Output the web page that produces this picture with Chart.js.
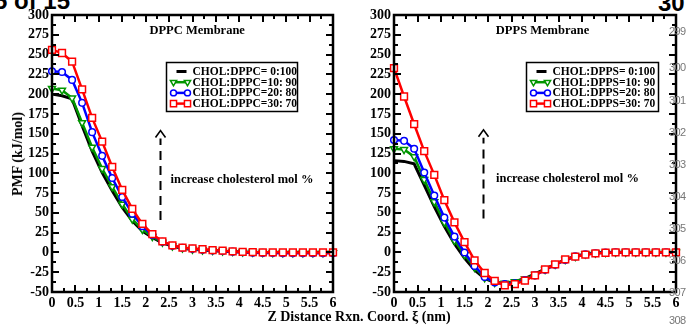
<!DOCTYPE html>
<html>
<head>
<meta charset="utf-8">
<title>PMF profiles - DPPC / DPPS</title>
<script src="https://cdn.jsdelivr.net/npm/chart.js@4.4.1/dist/chart.umd.min.js"></script>
<style>
    body { margin: 0; background: #fff; }
    #page { position: relative; width: 689px; height: 326px; overflow: hidden; background: #fff; }
    canvas { position: absolute; top: 0; }
    #leftChart { left: 0; }
    #rightChart { left: 345px; }
    .pageHead { position: absolute; font: bold 24px 'Liberation Sans', Arial, sans-serif; line-height: 24px; color: #000; white-space: nowrap; }
    .lineNo { position: absolute; left: 669px; font: 11px 'Liberation Sans', Arial, sans-serif; line-height: 12px; color: #777; letter-spacing: -0.6px; }
    .axisTitle { position: absolute; font: bold 14px 'Liberation Serif', 'Times New Roman', serif; color: #000; white-space: nowrap; line-height: 16px; }
    #xTitle { left: 359px; top: 309px; transform: translateX(-50%); }
    #yTitle { left: 18px; top: 154px; transform: translate(-50%, -50%) rotate(-90deg); }
</style>
</head>
<body>
<div id="page">
    <div class="pageHead" style="left:-6px; top:-11px;">5 of 15</div>
    <div class="pageHead" style="left:658px; top:-9px;">30</div>

    <canvas id="leftChart" width="345" height="326"></canvas>
    <canvas id="rightChart" width="344" height="326"></canvas>

    <div class="lineNo" style="top:25px;">299</div>
    <div class="lineNo" style="top:61px;">300</div>
    <div class="lineNo" style="top:94px;">301</div>
    <div class="lineNo" style="top:126px;">302</div>
    <div class="lineNo" style="top:158px;">303</div>
    <div class="lineNo" style="top:190px;">304</div>
    <div class="lineNo" style="top:222px;">305</div>
    <div class="lineNo" style="top:254px;">306</div>
    <div class="lineNo" style="top:286px;">307</div>
    <div class="lineNo" style="top:314px;">308</div>

    <div id="xTitle" class="axisTitle">Z Distance Rxn. Coord. &#958; (nm)</div>
    <div id="yTitle" class="axisTitle">PMF (kJ/mol)</div>
</div>

<script>
// --- Data ---
const zDistance = [0, 0.214, 0.429, 0.643, 0.857, 1.071, 1.286, 1.5, 1.714, 1.929,
    2.143, 2.357, 2.571, 2.786, 3, 3.214, 3.429, 3.643, 3.857, 4.071,
    4.286, 4.5, 4.714, 4.929, 5.143, 5.357, 5.571, 5.786, 6];

// DPPC membrane
const dppcChol0 = [200, 198, 194, 160, 128, 101, 78, 57, 40, 27, 19, 12, 8, 5, 4, 3, 2, 1.5, 1, 0.5, 0.2, 0, 0, 0, 0, 0, 0, 0, 0];
const dppcChol10 = [207, 205, 195, 164, 133, 106, 83, 61, 42, 29, 20, 13, 8, 5.5, 4, 3, 2.5, 1.8, 1.2, 0.6, 0.2, -0.2, -0.4, -0.5, -0.5, -0.5, -0.5, -0.5, -0.5];
const dppcChol20 = [229, 228, 218, 189, 152, 122, 94, 70, 49, 33, 22, 13.5, 8.5, 6, 4.5, 3.5, 2.5, 1.8, 1, 0.3, -0.3, -0.6, -0.8, -1, -1, -1, -1, -1, -1];
const dppcChol30 = [256, 252, 241, 206, 170, 140, 108, 79, 55, 36, 23, 14, 9, 6, 5, 4, 3, 2.2, 1.4, 0.6, 0.3, 0.2, 0.1, 0.1, 0, 0, 0, 0, 0];

// DPPS membrane
const dppsChol0 = [116, 115, 112, 85, 58, 33, 11, -7, -22, -33, -38, -39, -37, -33, -27, -21, -15, -9, -5, -2, -0.5, 0, 0.2, 0.2, 0.2, 0.2, 0.2, 0.2, 0.2];
const dppsChol10 = [131, 130, 121, 92, 64, 38, 15, -3, -19, -32, -38, -39, -37, -33.5, -28, -21.5, -15, -9, -5, -2, -0.8, 0, 0.3, 0.3, 0.3, 0.3, 0.3, 0.3, 0.3];
const dppsChol20 = [142, 141, 131, 101, 72, 44, 20, 0, -17, -31, -38, -40, -39, -35, -29, -22, -15.5, -9.5, -5, -2.5, -1, 0, 0.3, 0.3, 0.3, 0.2, 0.2, 0.2, 0.2];
const dppsChol30 = [233, 197, 162, 128, 98, 66, 38, 13, -10, -26, -36, -41.5, -40, -35.7, -29, -21.5, -15, -8.7, -5.4, -2.9, -1.2, -0.4, 0, 0.2, 0.2, 0.2, 0.2, 0.2, 0.2];

const dppcLabels = ['CHOL:DPPC= 0:100', 'CHOL:DPPC=10: 90', 'CHOL:DPPC=20: 80', 'CHOL:DPPC=30: 70'];
const dppsLabels = ['CHOL:DPPS= 0:100', 'CHOL:DPPS=10: 90', 'CHOL:DPPS=20: 80', 'CHOL:DPPS=30: 70'];

const xTickLimits = [0, 6];
const yTickLimits = [-50, 300];

// --- Styles ---
const SERIF = "'Liberation Serif', 'Times New Roman', serif";
const GREEN = 'rgb(0, 150, 0)';

const seriesStyles = [
    { color: '#000000', lineWidth: 3, pointStyle: false, radius: 0, rotation: 0 },
    { color: GREEN, lineWidth: 2.5, pointStyle: 'triangle', radius: 4, rotation: 180 },
    { color: '#0000ff', lineWidth: 2.5, pointStyle: 'circle', radius: 3.3, rotation: 0 },
    { color: '#ff0000', lineWidth: 2.5, pointStyle: 'rect', radius: 4.8, rotation: 0 }
];

// --- Helpers ---
function toPoints(values) {
    return values.map((v, i) => ({ x: zDistance[i], y: v }));
}

function buildDatasets(seriesList, labels) {
    return seriesList.map((values, i) => {
        const s = seriesStyles[i];
        return {
            label: labels[i],
            data: toPoints(values),
            borderColor: s.color,
            borderWidth: s.lineWidth,
            pointStyle: s.pointStyle,
            pointRadius: s.radius,
            pointRotation: s.rotation,
            pointBackgroundColor: '#ffffff',
            pointBorderColor: s.color,
            pointBorderWidth: 1.5,
            tension: 0,
            clip: false,
            order: 4 - i
        };
    });
}

// frame with inward major/minor ticks on all four sides
const frameTicks = {
    id: 'frameTicks',
    afterDatasetsDraw(chart) {
        const { ctx, chartArea: a, scales } = chart;
        const xs = scales.x, ys = scales.y;
        ctx.save();
        ctx.strokeStyle = '#000';
        ctx.lineWidth = 2;
        ctx.beginPath();
        for (let v = xTickLimits[0]; v <= xTickLimits[1] + 1e-9; v += 0.25) {
            const px = Math.round(xs.getPixelForValue(v));
            const len = (Math.abs(v * 2 - Math.round(v * 2)) < 1e-6) ? 7 : 4;
            ctx.moveTo(px, a.bottom); ctx.lineTo(px, a.bottom - len);
            ctx.moveTo(px, a.top); ctx.lineTo(px, a.top + len);
        }
        for (let v = yTickLimits[0]; v <= yTickLimits[1] + 1e-9; v += 12.5) {
            const py = Math.round(ys.getPixelForValue(v));
            const len = (v % 25 === 0) ? 7 : 4;
            ctx.moveTo(a.left, py); ctx.lineTo(a.left + len, py);
            ctx.moveTo(a.right, py); ctx.lineTo(a.right - len, py);
        }
        ctx.stroke();
        ctx.lineWidth = 2.5;
        ctx.strokeRect(a.left, a.top, a.right - a.left, a.bottom - a.top);
        ctx.restore();
    }
};

// title, dashed arrow, note and boxed legend inside the plot
const panelDecor = {
    id: 'panelDecor',
    afterDraw(chart, args, opts) {
        const { ctx, scales } = chart;
        const xs = scales.x, ys = scales.y;
        ctx.save();

        // title
        ctx.fillStyle = '#000';
        ctx.font = `bold 12.5px ${SERIF}`;
        ctx.textAlign = 'center';
        ctx.textBaseline = 'middle';
        ctx.fillText(opts.title, xs.getPixelForValue(opts.titleAt[0]), ys.getPixelForValue(opts.titleAt[1]));

        // dashed arrow
        const ax = Math.round(xs.getPixelForValue(opts.arrowX)) + 0.5;
        const aTop = ys.getPixelForValue(opts.arrowTop);
        const aBot = ys.getPixelForValue(opts.arrowBottom);
        ctx.strokeStyle = '#000';
        ctx.lineWidth = 2;
        ctx.setLineDash([9, 6]);
        ctx.beginPath();
        ctx.moveTo(ax, aBot);
        ctx.lineTo(ax, aTop + 8);
        ctx.stroke();
        ctx.setLineDash([]);
        ctx.lineWidth = 1.6;
        ctx.beginPath();
        ctx.moveTo(ax - 5, aTop + 7);
        ctx.lineTo(ax, aTop);
        ctx.lineTo(ax + 5, aTop + 7);
        ctx.stroke();

        // note
        ctx.textAlign = 'left';
        ctx.font = `bold 12.5px ${SERIF}`;
        ctx.fillText('increase cholesterol mol %', xs.getPixelForValue(opts.noteAt[0]), ys.getPixelForValue(opts.noteAt[1]));

        // legend box
        const bx = Math.round(xs.getPixelForValue(opts.legendAt[0])) + 0.5;
        const by = Math.round(ys.getPixelForValue(opts.legendAt[1])) + 0.5;
        const bw = opts.legendWidth, bh = 49;
        ctx.fillStyle = '#fff';
        ctx.fillRect(bx, by, bw, bh);
        ctx.strokeStyle = '#000';
        ctx.lineWidth = 1.5;
        ctx.strokeRect(bx, by, bw, bh);

        ctx.font = `bold 11.5px ${SERIF}`;
        chart.data.datasets.forEach((ds, i) => {
            const s = seriesStyles[i];
            const ry = by + 9 + i * 10.7;
            const x1 = bx + 7, x2 = bx + 21;
            ctx.strokeStyle = s.color;
            ctx.lineWidth = s.lineWidth;
            ctx.beginPath();
            if (s.pointStyle) {
                ctx.moveTo(x1, ry); ctx.lineTo(x2, ry);
            } else {
                ctx.moveTo(x1 + 3, ry); ctx.lineTo(x2 - 1, ry);
            }
            ctx.stroke();
            if (s.pointStyle) {
                ctx.fillStyle = '#fff';
                ctx.lineWidth = 1.5;
                const pOpts = { pointStyle: s.pointStyle, radius: s.radius * 0.9, rotation: s.rotation, borderWidth: 1.5 };
                Chart.helpers.drawPoint(ctx, pOpts, x1, ry);
                Chart.helpers.drawPoint(ctx, pOpts, x2, ry);
            }
            ctx.fillStyle = '#000';
            ctx.fillText(ds.label, bx + 26, ry + 0.5);
        });

        ctx.restore();
    }
};

function makeChart(canvasId, seriesList, labels, axisWidth, rightPad, decor) {
    const ctx = document.getElementById(canvasId).getContext('2d');
    return new Chart(ctx, {
        type: 'line',
        data: { datasets: buildDatasets(seriesList, labels) },
        options: {
            responsive: false,
            animation: false,
            devicePixelRatio: 1,
            layout: { padding: { top: 15, right: rightPad, bottom: 0, left: 0 } },
            plugins: {
                legend: { display: false },
                tooltip: { enabled: false },
                panelDecor: decor
            },
            scales: {
                x: {
                    type: 'linear',
                    min: xTickLimits[0],
                    max: xTickLimits[1],
                    grid: { display: false, drawTicks: false },
                    border: { display: false },
                    ticks: {
                        stepSize: 0.5,
                        autoSkip: false,
                        maxRotation: 0,
                        padding: 3,
                        color: '#000',
                        font: { family: SERIF, size: 14, weight: 'bold' },
                        callback: (v) => String(Math.round(v * 10) / 10)
                    },
                    afterFit(scale) { scale.height = 34; }
                },
                y: {
                    type: 'linear',
                    min: yTickLimits[0],
                    max: yTickLimits[1],
                    grid: { display: false, drawTicks: false },
                    border: { display: false },
                    ticks: {
                        stepSize: 25,
                        autoSkip: false,
                        padding: 3,
                        color: '#000',
                        font: { family: SERIF, size: 14, weight: 'bold' },
                        callback: (v) => String(v)
                    },
                    afterFit(scale) { scale.width = axisWidth; }
                }
            }
        },
        plugins: [frameTicks, panelDecor]
    });
}

// --- Charts ---
makeChart('leftChart', [dppcChol0, dppcChol10, dppcChol20, dppcChol30], dppcLabels, 52, 12, {
    title: 'DPPC Membrane',
    titleAt: [3.1, 280],
    arrowX: 2.3,
    arrowTop: 154,
    arrowBottom: 41,
    noteAt: [2.53, 92],
    legendAt: [2.44, 240],
    legendWidth: 131
});

makeChart('rightChart', [dppsChol0, dppsChol10, dppsChol20, dppsChol30], dppsLabels, 49, 13, {
    title: 'DPPS Membrane',
    titleAt: [3.16, 280],
    arrowX: 1.89,
    arrowTop: 155,
    arrowBottom: 43,
    noteAt: [2.17, 93],
    legendAt: [2.8, 240],
    legendWidth: 132
});
</script>
</body>
</html>
